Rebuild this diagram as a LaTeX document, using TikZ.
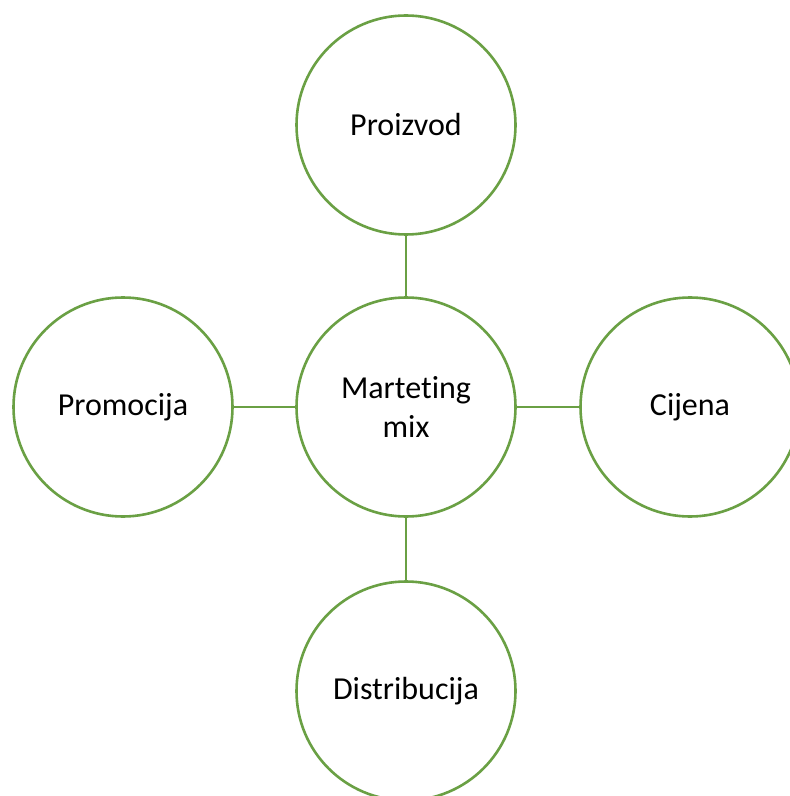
\documentclass[tikz,border=0pt]{standalone}
\usepackage{fontspec}
\setmainfont{Carlito}[Ligatures=NoCommon]
\usepackage{xcolor}
\usepackage{tikz}
\usetikzlibrary{positioning}
\definecolor{mixgreen}{RGB}{106,160,68}

\begin{document}
\begin{tikzpicture}[
x=0.5pt,y=-0.5pt,
MixCircle/.style={circle,draw=mixgreen,line width=1.3pt,fill=white,
  minimum size=109.5pt,inner sep=0pt,align=center,
  font=\fontsize{16}{19.5}\selectfont},
MixLink/.style={draw=mixgreen,line width=1.3pt}
]
\useasboundingbox (0,0) rectangle (789,796);

% centre of the diagram and the four arms
\coordinate (O) at (406,407);

\node[MixCircle] (mix) at (O) {Martet\kern0pt ing\\mix};
\node[MixCircle] (proizvod) at (406,125) {Proizvod};
\node[MixCircle] (cijena) at (690,407) {Cijena};
\node[MixCircle] (distribucija) at (406,691) {Distribucija};
\node[MixCircle] (promocija) at (123,407) {Promocija};

\draw[MixLink] (proizvod) -- (mix);
\draw[MixLink] (mix) -- (cijena);
\draw[MixLink] (mix) -- (distribucija);
\draw[MixLink] (promocija) -- (mix);

\end{tikzpicture}
\end{document}
